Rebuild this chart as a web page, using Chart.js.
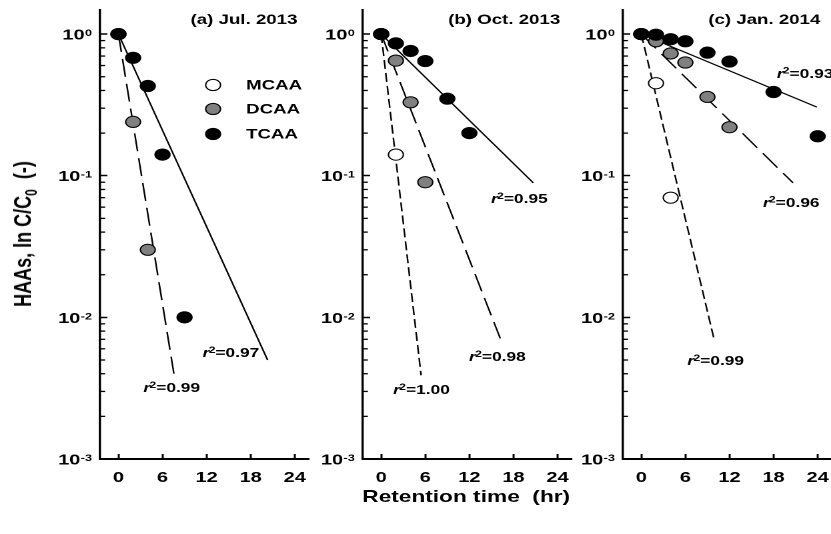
<!DOCTYPE html>
<html>
<head>
<meta charset="utf-8">
<script src="https://cdn.jsdelivr.net/npm/chart.js@4.4.0/dist/chart.umd.min.js"></script>
<style>
  html, body { margin: 0; padding: 0; background: #fff; overflow: hidden; }
  /* the source figure is stretched sideways, so the whole stage is too */
  #stage { position: absolute; left: 0; top: 0; width: 623px; height: 534px; overflow: hidden;
           transform: scaleX(1.3339); transform-origin: 0 0;
           font-family: "Liberation Sans", Arial, sans-serif; color: #000; }
  #stage canvas { position: absolute; top: 0; }
  .axis-title { position: absolute; font-weight: bold; white-space: nowrap; line-height: 1; }
  #xTitle { left: 349.5px; top: 496px; font-size: 17px; transform: translate(-50%, -50%); }
  #yTitle { left: 18.75px; top: 234px; font-size: 18px; transform: translate(-50%, -50%) rotate(-90deg); }
  #yTitle sub { font-size: 12px; vertical-align: -4px; }
</style>
</head>
<body>
<div id="stage">
  <canvas id="panelA" width="202" height="534" style="left:30px"></canvas>
  <canvas id="panelB" width="202" height="534" style="left:226.5px"></canvas>
  <canvas id="panelC" width="202" height="534" style="left:422px"></canvas>
  <div class="axis-title" id="yTitle">HAAs, ln C/C<sub>0</sub>&nbsp; (-)</div>
  <div class="axis-title" id="xTitle">Retention time&nbsp; (hr)</div>
</div>
<script>
const FONT = '"Liberation Sans", Arial, sans-serif';

const xTicks = [0, 6, 12, 18, 24];
const yTicks = [0.001, 0.01, 0.1, 1];
const yMinorTicks = [0.002, 0.003, 0.004, 0.005, 0.006, 0.007, 0.008, 0.009,
                     0.02, 0.03, 0.04, 0.05, 0.06, 0.07, 0.08, 0.09,
                     0.2, 0.3, 0.4, 0.5, 0.6, 0.7, 0.8, 0.9];

const species = ['MCAA', 'DCAA', 'TCAA'];
const panelTitles = ['(a) Jul. 2013', '(b) Oct. 2013', '(c) Jan. 2014'];

// (a) Jul. 2013 - measured C/C0
const julDCAATime = [0, 2, 4];
const julDCAA     = [1.0, 0.24, 0.030];
const julTCAATime = [0, 2, 4, 6, 9];
const julTCAA     = [1.0, 0.68, 0.43, 0.141, 0.010];
// first-order fits (end points)
const julDCAAFitTime = [0, 7.55];
const julDCAAFit     = [1.0, 0.004];
const julTCAAFitTime = [0, 20.3];
const julTCAAFit     = [1.0, 0.005];
const julR2 = ['0.99', '0.97'];

// (b) Oct. 2013
const octMCAATime = [0, 2];
const octMCAA     = [1.0, 0.141];
const octDCAATime = [0, 2, 4, 6];
const octDCAA     = [1.0, 0.65, 0.33, 0.090];
const octTCAATime = [0, 2, 4, 6, 9, 12];
const octTCAA     = [1.0, 0.86, 0.76, 0.645, 0.35, 0.20];
const octMCAAFitTime = [0, 5.43];
const octMCAAFit     = [1.0, 0.0039];
const octDCAAFitTime = [0, 16.2];
const octDCAAFit     = [1.0, 0.0071];
const octTCAAFitTime = [0, 20.7];
const octTCAAFit     = [1.0, 0.089];
const octR2 = ['1.00', '0.98', '0.95'];

// (c) Jan. 2014
const janMCAATime = [0, 2, 4];
const janMCAA     = [1.0, 0.45, 0.070];
const janDCAATime = [0, 2, 4, 6, 9, 12];
const janDCAA     = [1.0, 0.89, 0.73, 0.63, 0.36, 0.22];
const janTCAATime = [0, 2, 4, 6, 9, 12, 18, 24];
const janTCAA     = [1.0, 0.99, 0.92, 0.89, 0.74, 0.64, 0.39, 0.19];
const janMCAAFitTime = [0, 9.96];
const janMCAAFit     = [1.0, 0.0068];
const janDCAAFitTime = [0, 20.65];
const janDCAAFit     = [1.0, 0.089];
const janTCAAFitTime = [0, 23.9];
const janTCAAFit     = [1.0, 0.305];
const janR2 = ['0.99', '0.96', '0.93'];

const markerFill = { MCAA: '#ffffff', DCAA: '#808080', TCAA: '#000000' };
const fitDash    = { MCAA: [9, 4], DCAA: [18, 7], TCAA: [] };

const xy = (ts, vs) => ts.map((t, i) => ({ x: t, y: vs[i] }));

const pointSet = (name, ts, vs) => ({
  label: name,
  data: xy(ts, vs),
  pointRadius: 5.6,
  pointBackgroundColor: markerFill[name],
  pointBorderColor: '#000',
  pointBorderWidth: 1,
  backgroundColor: markerFill[name],
});

const fitSet = (name, ts, vs) => ({
  label: name + ' fit',
  data: xy(ts, vs),
  showLine: true,
  pointRadius: 0,
  borderColor: '#000',
  borderWidth: 1.2,
  borderDash: fitDash[name],
  fill: false,
});

// r² text, anchored in data units (left edge, vertical middle)
const r2Label = (text, x, y) => ({ text, x, y });

const decor = {
  id: 'decor',
  afterDatasetsDraw(chart, args, opts) {
    const { ctx, chartArea, scales: { x, y } } = chart;
    ctx.save();
    ctx.fillStyle = '#000';
    ctx.strokeStyle = '#000';

    // minor log ticks, inward
    ctx.lineWidth = 1.3;
    yMinorTicks.forEach(v => {
      const py = y.getPixelForValue(v);
      ctx.beginPath();
      ctx.moveTo(chartArea.left, py);
      ctx.lineTo(chartArea.left + 3.8, py);
      ctx.stroke();
    });

    // decade labels 10^n
    yTicks.forEach(v => {
      const py = y.getPixelForValue(v);
      const exp = String(Math.round(Math.log10(v)));
      const right = chartArea.left - 6;
      ctx.font = `bold 9.5px ${FONT}`;
      const sw = ctx.measureText(exp).width;
      ctx.textAlign = 'left';
      ctx.textBaseline = 'alphabetic';
      ctx.fillText(exp, right - sw, py + 2);
      ctx.font = `bold 15px ${FONT}`;
      ctx.textAlign = 'right';
      ctx.textBaseline = 'middle';
      ctx.fillText('10', right - sw - 0.3, py + 1.3);
    });

    // panel title
    ctx.font = `bold 14px ${FONT}`;
    ctx.textAlign = 'right';
    ctx.textBaseline = 'middle';
    ctx.fillText(opts.title, chartArea.right - 9, 20);

    // r² labels
    opts.r2.forEach(l => {
      let px = x.getPixelForValue(l.x);
      const py = y.getPixelForValue(l.y);
      ctx.textAlign = 'left';
      ctx.font = `italic bold 13px ${FONT}`;
      ctx.textBaseline = 'middle';
      ctx.fillText('r', px, py);
      px += ctx.measureText('r').width - 0.5;
      ctx.font = `bold 9px ${FONT}`;
      ctx.textBaseline = 'alphabetic';
      ctx.fillText('2', px, py - 0.5);
      px += ctx.measureText('2').width;
      ctx.font = `bold 13px ${FONT}`;
      ctx.textBaseline = 'middle';
      ctx.fillText('=' + l.text, px, py);
    });

    // legend (panel a only)
    if (opts.legend) {
      const rows = [85, 109, 134];
      const cx = chartArea.left + 84.75;
      species.forEach((name, i) => {
        ctx.beginPath();
        ctx.arc(cx, rows[i], 5.6, 0, Math.PI * 2);
        ctx.fillStyle = markerFill[name];
        ctx.fill();
        ctx.lineWidth = 1;
        ctx.stroke();
        ctx.fillStyle = '#000';
        ctx.font = `bold 14px ${FONT}`;
        ctx.textAlign = 'left';
        ctx.textBaseline = 'middle';
        ctx.fillText(name, cx + 24.75, rows[i] + 0.5);
      });
    }
    ctx.restore();
  }
};

const makePanel = (id, datasets, title, r2, legend) => new Chart(document.getElementById(id), {
  type: 'scatter',
  data: { datasets },
  options: {
    responsive: false,
    animation: false,
    devicePixelRatio: 2,
    layout: { autoPadding: false, padding: { top: 10, right: 0, bottom: 0, left: 0 } },
    plugins: {
      legend: { display: false },
      tooltip: { enabled: false },
      decor: { title, r2, legend },
    },
    scales: {
      x: {
        type: 'linear', min: -2.5, max: 26,
        afterBuildTicks: s => { s.ticks = xTicks.map(v => ({ value: v })); },
        afterFit: s => { s.height = 75; s.paddingLeft = 0; s.paddingRight = 0; },
        ticks: { color: '#000', font: { family: FONT, size: 15, weight: 'bold' }, padding: 15, maxRotation: 0, autoSkip: false },
        grid: { drawOnChartArea: false, tickLength: -5, tickWidth: 1.5, tickColor: '#000' },
        border: { display: true, color: '#000', width: 2 },
      },
      y: {
        type: 'logarithmic', min: 0.001, max: 1.48,
        afterBuildTicks: s => { s.ticks = yTicks.map(v => ({ value: v, major: true })); },
        afterFit: s => { s.width = 45; s.paddingTop = 0; s.paddingBottom = 0; },
        ticks: { display: false },
        grid: { drawOnChartArea: false, tickLength: -5.5, tickWidth: 1.5, tickColor: '#000' },
        border: { display: true, color: '#000', width: 1.7 },
      },
    },
  },
  plugins: [decor],
});

makePanel('panelA', [
  pointSet('TCAA', julTCAATime, julTCAA),
  pointSet('DCAA', julDCAATime, julDCAA),
  fitSet('TCAA', julTCAAFitTime, julTCAAFit),
  fitSet('DCAA', julDCAAFitTime, julDCAAFit),
], panelTitles[0], [
  r2Label(julR2[0], 3.41, 0.00315),
  r2Label(julR2[1], 11.46, 0.00557),
], true);

makePanel('panelB', [
  pointSet('TCAA', octTCAATime, octTCAA),
  pointSet('DCAA', octDCAATime, octDCAA),
  pointSet('MCAA', octMCAATime, octMCAA),
  fitSet('TCAA', octTCAAFitTime, octTCAAFit),
  fitSet('DCAA', octDCAAFitTime, octDCAAFit),
  fitSet('MCAA', octMCAAFitTime, octMCAAFit),
], panelTitles[1], [
  r2Label(octR2[0], 1.63, 0.00305),
  r2Label(octR2[1], 11.96, 0.00521),
  r2Label(octR2[2], 14.95, 0.0682),
], false);

makePanel('panelC', [
  pointSet('TCAA', janTCAATime, janTCAA),
  pointSet('DCAA', janDCAATime, janDCAA),
  pointSet('MCAA', janMCAATime, janMCAA),
  fitSet('TCAA', janTCAAFitTime, janTCAAFit),
  fitSet('DCAA', janDCAAFitTime, janDCAAFit),
  fitSet('MCAA', janMCAAFitTime, janMCAAFit),
], panelTitles[2], [
  r2Label(janR2[0], 6.27, 0.00489),
  r2Label(janR2[1], 16.55, 0.064),
  r2Label(janR2[2], 18.44, 0.521),
], false);
</script>
</body>
</html>
